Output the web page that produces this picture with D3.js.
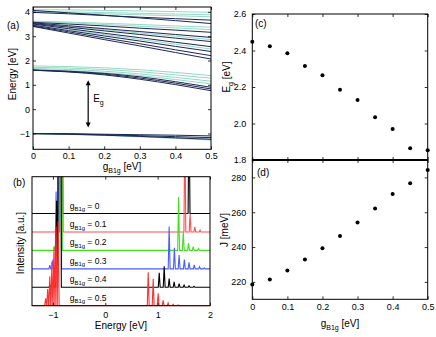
<!DOCTYPE html>
<html>
<head>
<meta charset="utf-8">
<script src="https://cdn.jsdelivr.net/npm/d3@7"></script>
<style>
body { margin: 0; background: #fff; }
text { font-family: "Liberation Sans", Arial, sans-serif; }
</style>
</head>
<body>
<svg id="fig" width="436" height="337"></svg>
<script>
// ---- panel (a): band energies [eV] read at these g values
var bandG = [0, 0.1, 0.2, 0.3, 0.4, 0.5];
var bandsLight = [
  [-1.00, -1.02, -1.06, -1.11, -1.17, -1.22],
  [-1.02, -1.04, -1.08, -1.14, -1.20, -1.27],
  [1.63, 1.58, 1.50, 1.38, 1.22, 1.04],
  [1.67, 1.63, 1.56, 1.45, 1.31, 1.15],
  [1.72, 1.69, 1.63, 1.54, 1.41, 1.27],
  [1.78, 1.75, 1.70, 1.62, 1.51, 1.38],
  [3.47, 3.27, 3.07, 2.87, 2.67, 2.47],
  [3.53, 3.40, 3.27, 3.13, 3.00, 2.86],
  [3.60, 3.55, 3.48, 3.41, 3.34, 3.27],
  [3.62, 3.58, 3.53, 3.48, 3.42, 3.37],
  [4.02, 4.00, 3.97, 3.94, 3.91, 3.88],
  [3.97, 3.95, 3.92, 3.88, 3.84, 3.80],
  [4.09, 4.08, 4.06, 4.04, 4.01, 3.98]
];
var bandsDark = [
  [-1.00, -1.01, -1.03, -1.05, -1.07, -1.10],
  [-1.00, -1.02, -1.05, -1.09, -1.13, -1.17],
  [-1.01, -1.03, -1.07, -1.12, -1.18, -1.24],
  [1.60, 1.53, 1.41, 1.23, 1.01, 0.76],
  [1.60, 1.54, 1.44, 1.28, 1.07, 0.83],
  [1.61, 1.56, 1.47, 1.33, 1.13, 0.90],
  [3.40, 3.13, 2.86, 2.60, 2.33, 2.06],
  [3.42, 3.18, 2.93, 2.69, 2.44, 2.20],
  [3.45, 3.23, 3.01, 2.80, 2.58, 2.37],
  [3.50, 3.31, 3.12, 2.94, 2.75, 2.57],
  [3.52, 3.37, 3.22, 3.07, 2.92, 2.78],
  [3.55, 3.43, 3.31, 3.19, 3.07, 2.95],
  [3.57, 3.50, 3.42, 3.33, 3.25, 3.16],
  [4.06, 3.96, 3.86, 3.75, 3.64, 3.52],
  [3.98, 3.92, 3.85, 3.78, 3.72, 3.66]
];
var gapArrow = [1.19, -0.75];   // E_g arrow, at g = 0.155
var gapArrowG = 0.155;

// ---- panel (b): spectra, peaks as [energy, height]
var specG = [0, 0.1, 0.2, 0.3, 0.4, 0.5];
var peaks00 = [[-0.85, 40], [1.60, 6]];
var peaks01 = [[-0.94, 0.3], [-0.84, 40], [1.52, 6], [1.62, 1.0], [1.71, 0.28], [1.81, 0.1]];
var peaks02 = [[-0.96, 0.25], [-0.855, 40], [1.40, 2.9], [1.49, 1.0], [1.59, 0.4], [1.68, 0.2], [1.78, 0.1]];
var peaks03 = [[-1.06, 0.2], [-1.0, 0.5], [-0.94, 4.2], [-0.87, 40], [1.22, 2.3], [1.32, 1.15],
  [1.41, 0.75], [1.51, 0.5], [1.60, 0.35], [1.70, 0.22], [1.80, 0.12], [1.89, 0.06]];
var peaks04 = [[-1.06, 0.1], [-1.02, 0.35], [-0.98, 1.1], [-0.93, 4.7], [-0.875, 40], [1.03, 0.78],
  [1.125, 1.14], [1.22, 0.47], [1.315, 0.29], [1.41, 0.2], [1.505, 0.12], [1.60, 0.08], [1.695, 0.05]];
var peaks05 = [[-1.14, 0.4], [-1.10, 0.9], [-1.06, 1.6], [-1.02, 2.4], [-0.98, 3.2], [-0.94, 4.3],
  [-0.90, 4.6], [0.82, 1.82], [0.915, 1.46], [1.01, 0.68], [1.105, 0.29], [1.20, 0.15], [1.295, 0.08], [1.39, 0.04]];
var specPeaks = [peaks00, peaks01, peaks02, peaks03, peaks04, peaks05];

// ---- panels (c) and (d)
var gVals = [0, 0.05, 0.1, 0.15, 0.2, 0.25, 0.3, 0.35, 0.4, 0.45, 0.5];
var gapE = [2.448, 2.423, 2.385, 2.315, 2.264, 2.185, 2.129, 2.034, 1.970, 1.864, 1.853];
var exchJ = [218.5, 221.3, 226.5, 232.9, 239.3, 246.4, 254.1, 262.2, 270.5, 276.7, 284.2];

var specColors = ["#000000", "#ff4d4d", "#3fe11b", "#4a5cff", "#000000", "#ff3030"];

var svg = d3.select("#fig");

function frame(g, x, y, o) {
  var xr = x.range(), yr = y.range();
  var bx = g.append("g").attr("transform", "translate(0," + yr[0] + ")")
    .call(d3.axisBottom(x).tickValues(o.xt).tickSize(-3).tickPadding(o.xpad || 4)
      .tickFormat(o.xfmt ? o.xfmt : ""));
  var tx = g.append("g").attr("transform", "translate(0," + yr[1] + ")")
    .call(d3.axisTop(x).tickValues(o.xt).tickSize(-3).tickFormat(""));
  var ly = g.append("g").attr("transform", "translate(" + xr[0] + ",0)")
    .call(d3.axisLeft(y).tickValues(o.yt).tickSize(-3).tickPadding(o.ypad || 4)
      .tickFormat(o.yfmt ? o.yfmt : ""));
  var ry = g.append("g").attr("transform", "translate(" + xr[1] + ",0)")
    .call(d3.axisRight(y).tickValues(o.yt).tickSize(-3).tickFormat(""));
  [bx, tx, ly, ry].forEach(function (a) {
    a.select(".domain").remove();
    a.attr("font-family", null).attr("font-size", 9);
    a.selectAll("line").attr("stroke", "#000").attr("stroke-width", 0.8);
  });
  g.append("rect")
    .attr("x", xr[0]).attr("y", yr[1])
    .attr("width", xr[1] - xr[0]).attr("height", yr[0] - yr[1])
    .attr("fill", "none").attr("stroke", "#000").attr("stroke-width", 1);
}

function gLabel(sel, x, y, tail, size) {
  var t = sel.append("text").attr("x", x).attr("y", y).attr("font-size", size)
    .attr("text-anchor", "middle");
  t.append("tspan").text("g");
  t.append("tspan").attr("font-size", size * 0.7).attr("dy", size * 0.3).text("B1g");
  t.append("tspan").attr("dy", -size * 0.3).text(tail);
  return t;
}

var fmt1 = function (d) { return d === 0 ? "0" : d3.format(".1f")(d); };

// ================= panel (a)
var xa = d3.scaleLinear().domain([0, 0.5]).range([33, 211]);
var ya = d3.scaleLinear().domain([-1.65, 4.2]).range([149.3, 7]);
var ga = svg.append("g");
svg.append("clipPath").attr("id", "clipA").append("rect")
  .attr("x", 33).attr("y", 7).attr("width", 178).attr("height", 142.3);

var bandLine = d3.line()
  .x(function (d, i) { return xa(bandG[i]); })
  .y(function (d) { return ya(d); })
  .curve(d3.curveMonotoneX);

var bandsG = ga.append("g").attr("clip-path", "url(#clipA)");
bandsG.selectAll(".bl").data(bandsLight).enter().append("path")
  .attr("d", bandLine).attr("fill", "none")
  .attr("stroke", "#96d8c6").attr("stroke-width", 1);
bandsG.selectAll(".bd").data(bandsDark).enter().append("path")
  .attr("d", bandLine).attr("fill", "none")
  .attr("stroke", "#1d2754").attr("stroke-width", 1);

frame(ga, xa, ya, {
  xt: [0, 0.1, 0.2, 0.3, 0.4, 0.5], xfmt: fmt1, xpad: 3,
  yt: [-1, 0, 1, 2, 3, 4], yfmt: d3.format("d"), ypad: 3
});

// E_g arrow
var axg = xa(gapArrowG);
ga.append("line").attr("x1", axg).attr("x2", axg)
  .attr("y1", ya(gapArrow[0]) + 4).attr("y2", ya(gapArrow[1]) - 4)
  .attr("stroke", "#000").attr("stroke-width", 1.2);
ga.append("path").attr("fill", "#000")
  .attr("d", "M" + axg + "," + ya(gapArrow[0]) + "l-2.5,5h5z");
ga.append("path").attr("fill", "#000")
  .attr("d", "M" + axg + "," + ya(gapArrow[1]) + "l-2.5,-5h5z");
var eg = ga.append("text").attr("x", axg + 5).attr("y", ya(0.3)).attr("font-size", 10);
eg.append("tspan").text("E");
eg.append("tspan").attr("font-size", 7).attr("dy", 3).text("g");

ga.append("text").attr("x", 7).attr("y", 29).attr("font-size", 10).text("(a)");
ga.append("text").attr("transform", "translate(16,74) rotate(-90)")
  .attr("text-anchor", "middle").attr("font-size", 10).text("Energy [eV]");
gLabel(ga, 122, 169.5, " [eV]", 10);

// ================= panel (b)
var xb = d3.scaleLinear().domain([-1.4, 2]).range([32, 210]);
var yb = d3.scaleLinear().domain([0, 7]).range([305.7, 176.7]);
var gb = svg.append("g");
svg.append("clipPath").attr("id", "clipB").append("rect")
  .attr("x", 32).attr("y", 176.7).attr("width", 178).attr("height", 130);

function spectrum(peaks, offset) {
  var hw = function (p) { return p[1] > 20 ? 0.035 : 0.018; };
  var xs = [xb.domain()[0], xb.domain()[1]];
  peaks.forEach(function (p) { xs.push(p[0] - hw(p), p[0], p[0] + hw(p)); });
  xs.sort(d3.ascending);
  return xs.map(function (e) {
    var v = 0;
    peaks.forEach(function (p) {
      var t = 1 - Math.abs(e - p[0]) / hw(p);
      if (t > 0) v += p[1] * t;
    });
    return [e, offset + v];
  });
}

var specLine = d3.line().x(function (d) { return xb(d[0]); }).y(function (d) { return yb(d[1]); });
var specG_ = gb.append("g").attr("clip-path", "url(#clipB)");
specPeaks.forEach(function (pk, i) {
  var off = specPeaks.length - 1 - i;
  specG_.append("path").datum(spectrum(pk, off))
    .attr("d", specLine).attr("fill", "none")
    .attr("stroke", specColors[i]).attr("stroke-width", 1.1);
});

specG.forEach(function (g, i) {
  var off = specPeaks.length - 1 - i;
  gLabel(gb, xb(-0.68), yb(off) - 5, " = " + g, 8.5).attr("text-anchor", "start");
});

frame(gb, xb, yb, {
  xt: [-1, 0, 1, 2], xfmt: d3.format("d"), xpad: 6,
  yt: []
});
gb.append("text").attr("x", 13).attr("y", 186).attr("font-size", 10).text("(b)");
gb.append("text").attr("transform", "translate(24,243) rotate(-90)")
  .attr("text-anchor", "middle").attr("font-size", 10).text("Intensity [a.u.]");
gb.append("text").attr("x", 121).attr("y", 329).attr("text-anchor", "middle")
  .attr("font-size", 10).text("Energy [eV]");

// ================= panel (c)
var xc = d3.scaleLinear().domain([0, 0.5]).range([252.3, 427.7]);
var yc = d3.scaleLinear().domain([1.8, 2.6]).range([160, 14]);
var gc = svg.append("g");
frame(gc, xc, yc, {
  xt: [0, 0.1, 0.2, 0.3, 0.4, 0.5],
  yt: [1.8, 2.0, 2.2, 2.4, 2.6], yfmt: d3.format(".1f"), ypad: 6
});
gc.selectAll(".dot").data(gapE).enter().append("circle")
  .attr("cx", function (d, i) { return xc(gVals[i]); })
  .attr("cy", function (d) { return yc(d); })
  .attr("r", 2).attr("fill", "#000");
gc.append("text").attr("x", 255).attr("y", 27).attr("font-size", 10).text("(c)");
var el = gc.append("text").attr("transform", "translate(230,77) rotate(-90)")
  .attr("text-anchor", "middle").attr("font-size", 10);
el.append("tspan").text("E");
el.append("tspan").attr("font-size", 7).attr("dy", 3).text("g");
el.append("tspan").attr("dy", -3).text(" [eV]");

// ================= panel (d)
var yd = d3.scaleLinear().domain([210, 290]).range([299.3, 160]);
var gd = svg.append("g");
frame(gd, xc, yd, {
  xt: [0, 0.1, 0.2, 0.3, 0.4, 0.5], xfmt: fmt1, xpad: 4,
  yt: [220, 240, 260, 280], yfmt: d3.format("d"), ypad: 6
});
gd.selectAll(".dot").data(exchJ).enter().append("circle")
  .attr("cx", function (d, i) { return xc(gVals[i]); })
  .attr("cy", function (d) { return yd(d); })
  .attr("r", 2).attr("fill", "#000");
gd.append("text").attr("x", 257).attr("y", 176).attr("font-size", 10).text("(d)");
gd.append("text").attr("transform", "translate(228,230) rotate(-90)")
  .attr("text-anchor", "middle").attr("font-size", 10).text("J [meV]");
gLabel(gd, 340, 327, " [eV]", 10);
// shared border between (c) and (d) looks heavier
gd.append("line").attr("x1", 252.3).attr("x2", 427.7).attr("y1", 160).attr("y2", 160)
  .attr("stroke", "#000").attr("stroke-width", 2);
</script>
</body>
</html>
